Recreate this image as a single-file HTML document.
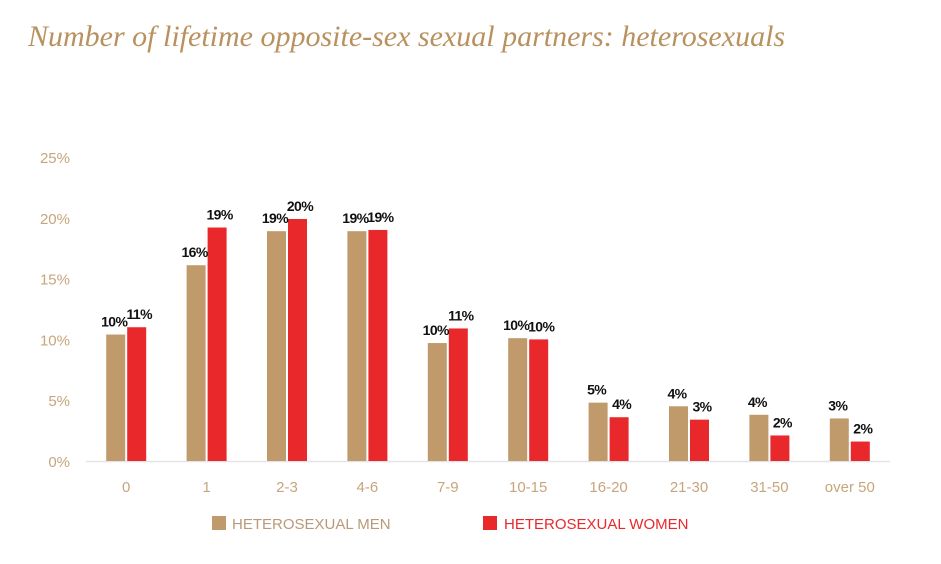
<!DOCTYPE html>
<html><head><meta charset="utf-8"><style>
body{margin:0;background:#fff;width:941px;height:564px;overflow:hidden}
svg{display:block}
</style></head><body>
<svg width="941" height="564">
<text x="28" y="46" font-family="Liberation Serif, serif" font-style="italic" font-size="30" fill="#b8915e">Number of lifetime opposite-sex sexual partners: heterosexuals</text>
<g id="axes"></g><g id="bars"></g>
<g>
<rect x="212" y="516" width="14" height="14" fill="#c09a6b"/>
<text x="232" y="529" font-family="Liberation Sans, sans-serif" font-size="15" fill="#b89a78">HETEROSEXUAL MEN</text>
<rect x="483" y="516" width="14" height="14" fill="#e8282b"/>
<text x="504" y="529" font-family="Liberation Sans, sans-serif" font-size="15" fill="#e8282b">HETEROSEXUAL WOMEN</text>
</g>
</svg>
<script>
const categories=["0","1","2-3","4-6","7-9","10-15","16-20","21-30","31-50","over 50"];
const menValues=[10.4,16.1,18.9,18.9,9.7,10.1,4.8,4.5,3.8,3.5];
const womenValues=[11.0,19.2,19.9,19.0,10.9,10.0,3.6,3.4,2.1,1.6];
const menLabels=["10%","16%","19%","19%","10%","10%","5%","4%","4%","3%"];
const womenLabels=["11%","19%","20%","19%","11%","10%","4%","3%","2%","2%"];
const yTicks=[0,5,10,15,20,25];
const NS="http://www.w3.org/2000/svg";
const x0=86,x1=890,base=461,pxPer=12.16;
const y=v=>base-v*pxPer;
const bandW=(x1-x0)/categories.length;
const xc=i=>x0+bandW*(i+0.5);
function mk(t,a,p){const e=document.createElementNS(NS,t);for(const k in a)e.setAttribute(k,a[k]);p.appendChild(e);return e;}
const ax=document.getElementById('axes'),bg=document.getElementById('bars');
const axl=mk('line',{x1:x0,x2:x1,y1:base+0.5,y2:base+0.5,stroke:'#e3e3e8','stroke-width':1.5},ax);


yTicks.forEach(v=>{const t=mk('text',{x:70,y:y(v)+6,'text-anchor':'end','font-family':'Liberation Sans, sans-serif','font-size':15,fill:'#c7a57c'},ax);t.textContent=v+'%';

});
const font={'font-family':'Liberation Sans, sans-serif','font-size':14,'letter-spacing':'-0.6','text-anchor':'middle',fill:'#111','font-weight':'bold'};
categories.forEach((c,i)=>{
 const cx=xc(i);
 const t=mk('text',{x:cx,y:base+31,'text-anchor':'middle','font-family':'Liberation Sans, sans-serif','font-size':15,fill:'#c7a57c'},ax);t.textContent=c;
 
 
 const m=mk('rect',{x:cx-20,y:y(menValues[i]),width:19,height:menValues[i]*pxPer,fill:'#c09a6b'},bg);
 
 
 const w=mk('rect',{x:cx+1,y:y(womenValues[i]),width:19,height:womenValues[i]*pxPer,fill:'#e8282b'},bg);
 
 
 const ml=mk('text',Object.assign({x:cx-12,y:y(menValues[i])-8},font),bg);ml.textContent=menLabels[i];
 
 
 const wl=mk('text',Object.assign({x:cx+13,y:y(womenValues[i])-8},font),bg);wl.textContent=womenLabels[i];
 
 
});
</script>
</body></html>
